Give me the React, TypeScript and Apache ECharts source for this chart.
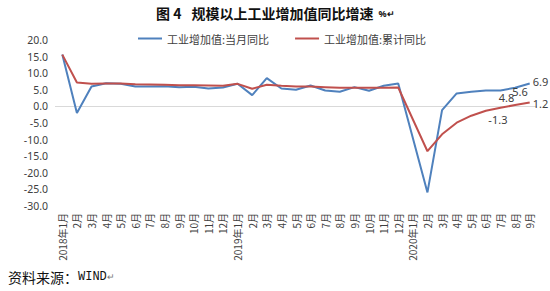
import React, { useEffect, useRef } from "react";
import * as echarts from "echarts";

// Month labels, 2018-01 .. 2020-09
const months: string[] = [
  "2018年1月", "2月", "3月", "4月", "5月", "6月", "7月", "8月", "9月", "10月", "11月", "12月",
  "2019年1月", "2月", "3月", "4月", "5月", "6月", "7月", "8月", "9月", "10月", "11月", "12月",
  "2020年1月", "2月", "3月", "4月", "5月", "6月", "7月", "8月", "9月",
];

// 工业增加值:当月同比 (%)
const monthlyYoY: (number | null)[] = [
  15.6, -2.0, 6.0, 7.0, 6.8, 6.0, 6.0, 6.1, 5.8, 5.9, 5.4, 5.7,
  6.8, 3.4, 8.5, 5.4, 5.0, 6.3, 4.8, 4.4, 5.8, 4.7, 6.2, 6.9,
  null, -25.9, -1.1, 3.9, 4.4, 4.8, 4.8, 5.6, 6.9,
];

// 工业增加值:累计同比 (%)
const cumulativeYoY: (number | null)[] = [
  15.6, 7.2, 6.8, 6.9, 6.9, 6.7, 6.6, 6.5, 6.4, 6.4, 6.3, 6.2,
  6.8, 5.3, 6.5, 6.2, 6.0, 6.0, 5.8, 5.6, 5.6, 5.6, 5.6, 5.7,
  null, -13.5, -8.4, -4.9, -2.8, -1.3, -0.4, 0.4, 1.2,
];

// y-axis range
const yMin = -30;
const yMax = 20;
const yStep = 5;

const BLUE = "#4F81BD";
const RED = "#C0504D";
const TEXT = "#404040";
const CJK = "'Noto Sans CJK SC', 'Noto Sans', sans-serif";
const NUM = "'Noto Sans', 'Liberation Sans', sans-serif";

type LabelSpec = { position: string; offset: [number, number]; distance?: number };

// data labels on the last few points
const blueLabels: Record<number, LabelSpec> = {
  30: { position: "bottom", offset: [6, 0], distance: 2 },
  31: { position: "bottom", offset: [5, -3], distance: 1 },
  32: { position: "right", offset: [0, -2], distance: 3 },
};
const redLabels: Record<number, LabelSpec> = {
  29: { position: "bottom", offset: [12, 0], distance: 3 },
  32: { position: "right", offset: [0, 1], distance: 3 },
};

function withLabels(values: (number | null)[], specs: Record<number, LabelSpec>) {
  return values.map((v, i) => {
    const s = specs[i];
    if (!s || v === null) return v;
    return {
      value: v,
      label: {
        show: true,
        position: s.position,
        offset: s.offset,
        distance: s.distance ?? 5,
        formatter: (p: any) => Number(p.value).toFixed(1),
        color: TEXT,
        fontSize: 11,
        fontFamily: NUM,
      },
    };
  });
}

export default function App() {
  const ref = useRef<HTMLDivElement>(null);

  useEffect(() => {
    if (!ref.current) return;
    const chart = echarts.init(ref.current, undefined, { renderer: "svg" });
    chart.setOption({
      animation: false,
      backgroundColor: "#ffffff",
      graphic: [
        {
          type: "text",
          left: 156,
          top: 6,
          style: {
            text: "{t|图 4}{g| }{t|规模以上工业增加值同比增速}{h| }{u|%↵}",
            rich: {
              t: { fontSize: 14, fontWeight: "bold", fill: "#111", fontFamily: CJK },
              g: { fontSize: 14, width: 10 },
              h: { fontSize: 14, width: 5 },
              u: { fontSize: 9, fontWeight: "bold", fill: "#111", fontFamily: NUM },
            },
          },
        },
        {
          type: "text",
          left: 8,
          top: 270,
          style: {
            text: "{a|资料来源：}{b|WIND}{c|↵}",
            rich: {
              a: { fontSize: 14, fill: "#111", fontFamily: CJK },
              b: { fontSize: 12, fill: "#111", fontFamily: "'Liberation Mono', monospace" },
              c: { fontSize: 9, fill: "#777", fontFamily: NUM },
            },
          },
        },
      ],
      legend: {
        top: 28,
        left: 133,
        itemWidth: 24,
        itemHeight: 2,
        itemGap: 26,
        icon: "rect",
        textStyle: { fontSize: 11, color: TEXT, fontFamily: CJK },
        data: ["工业增加值:当月同比", "工业增加值:累计同比"],
      },
      grid: { left: 55, right: 13, top: 40, bottom: 85 },
      xAxis: {
        type: "category",
        data: months,
        boundaryGap: true,
        axisLine: { show: false },
        axisTick: { show: false },
        axisLabel: {
          interval: 0,
          rotate: 90,
          margin: 7,
          fontSize: 10,
          color: TEXT,
          fontFamily: CJK,
        },
      },
      yAxis: {
        type: "value",
        min: yMin,
        max: yMax,
        interval: yStep,
        axisLine: { show: false },
        axisTick: { show: false },
        splitLine: { show: false },
        axisLabel: {
          margin: 7,
          fontSize: 10.5,
          color: TEXT,
          fontFamily: NUM,
          formatter: (v: number) => v.toFixed(1),
        },
      },
      series: [
        {
          name: "工业增加值:当月同比",
          type: "line",
          data: withLabels(monthlyYoY, blueLabels),
          connectNulls: true,
          showSymbol: true,
          symbol: "circle",
          symbolSize: 0,
          lineStyle: { color: BLUE, width: 2 },
          itemStyle: { color: BLUE },
          z: 3,
          markLine: {
            silent: true,
            symbol: "none",
            label: { show: false },
            lineStyle: { color: "#d9d9d9", width: 1, type: "solid" },
            data: [{ yAxis: 0 }],
            z: 1,
          },
        },
        {
          name: "工业增加值:累计同比",
          type: "line",
          data: withLabels(cumulativeYoY, redLabels),
          connectNulls: true,
          showSymbol: true,
          symbol: "circle",
          symbolSize: 0,
          lineStyle: { color: RED, width: 2 },
          itemStyle: { color: RED },
          z: 4,
        },
      ],
    });
    return () => chart.dispose();
  }, []);

  return (
    <div
      ref={ref}
      style={{ position: "fixed", left: 0, top: 0, width: 550, height: 291 }}
    />
  );
}
